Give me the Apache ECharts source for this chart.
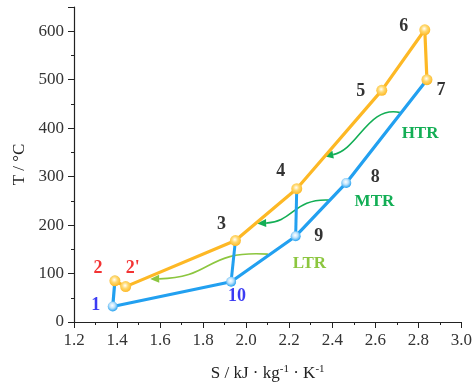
<!DOCTYPE html>
<html>
<head>
<meta charset="utf-8">
<script src="https://cdn.jsdelivr.net/npm/echarts@6/dist/echarts.min.js"></script>
<style>
  html, body { margin: 0; padding: 0; background: #fff; }
  #chart { width: 475px; height: 392px; }
</style>
</head>
<body>
<div id="chart"></div>
<script>
// state points of the cycle
const pointNames = ['1', '2', "2'", '3', '4', '5', '6', '7', '8', '9', '10'];
const entropy = [1.38, 1.39, 1.44, 1.95, 2.235, 2.63, 2.83, 2.84, 2.465, 2.23, 1.93];
const temperature = [32, 85, 73, 168, 275, 478, 603, 500, 287, 177, 83];

// paths through the points
const hotPath = ['2', "2'", '3', '4', '5', '6', '7'];
const coldPath = ['7', '8', '9', '10', '1', '2'];
const links = [['3', '10'], ['4', '9']];

// axes
const sRange = [1.2, 3.0];
const tRange = [0, 650];

// recuperator arrows (data coords)
const recuperators = ['HTR', 'MTR', 'LTR'];
const arrowFrom = [[2.717, 432], [2.389, 251.5], [2.101, 140]];
const arrowCtrl1 = [[2.566, 448], [2.22, 256], [1.805, 148.5]];
const arrowCtrl2 = [[2.52, 355], [2.22, 206], [1.851, 91]];
const arrowTo = [[2.363, 342], [2.051, 203.5], [1.554, 88.7]];
const tagAt = [[2.808, 388], [2.596, 248], [2.294, 121]];

const ORANGE = '#FDB825';
const BLUE = '#22A0F0';
const SERIF = 'Liberation Serif';

const labelStyle = {
  '1': { color: '#0A0AF0', offset: [-17, -1] },
  '2': { color: '#F00000', offset: [-17, -12] },
  "2'": { color: '#F00000', offset: [7, -18] },
  '3': { color: '#000', offset: [-14, -16] },
  '4': { color: '#000', offset: [-16, -17] },
  '5': { color: '#000', offset: [-21, 1] },
  '6': { color: '#000', offset: [-21, -3] },
  '7': { color: '#000', offset: [14, 11] },
  '8': { color: '#000', offset: [29, -6] },
  '9': { color: '#000', offset: [23, 0] },
  '10': { color: '#0A0AF0', offset: [6, 15] }
};
const tagColors = ['#13AE55', '#13AE55', '#8CC63F'];

function pt(name) {
  const i = pointNames.indexOf(name);
  return [entropy[i], temperature[i]];
}

function ballColor(edge, mid) {
  return {
    type: 'radial', x: 0.45, y: 0.4, r: 0.6,
    colorStops: [
      { offset: 0, color: '#ffffff' },
      { offset: 0.45, color: mid },
      { offset: 1, color: edge }
    ]
  };
}

const chart = echarts.init(document.getElementById('chart'));

const arrowData = recuperators.map((n, i) => [
  ...arrowFrom[i], ...arrowCtrl1[i], ...arrowCtrl2[i], ...arrowTo[i], ...tagAt[i]
]);

const option = {
  animation: false,
  grid: { left: 74, right: 11, top: 7, bottom: 70 },
  xAxis: {
    type: 'value',
    min: sRange[0], max: sRange[1], interval: 0.2,
    name: 'S / kJ · kg{sup|-1} · K{sup|-1}',
    nameLocation: 'middle',
    nameGap: 42,
    nameTextStyle: {
      fontFamily: SERIF, fontSize: 17, color: '#222',
      rich: { sup: { fontFamily: SERIF, fontSize: 11, color: '#222', verticalAlign: 'top', padding: [0, 0, 9, 0] } }
    },
    axisLine: { lineStyle: { color: '#222', width: 1.2 } },
    axisTick: { length: 6, lineStyle: { color: '#222' } },
    minorTick: { show: true, splitNumber: 2, length: 3, lineStyle: { color: '#222' } },
    axisLabel: {
      margin: 10, fontFamily: SERIF, fontSize: 17, color: '#333',
      formatter: v => v.toFixed(1)
    },
    splitLine: { show: false }
  },
  yAxis: {
    type: 'value',
    min: tRange[0], max: tRange[1], interval: 100,
    name: 'T / °C',
    nameLocation: 'middle',
    nameGap: 46,
    nameTextStyle: { fontFamily: SERIF, fontSize: 17, color: '#222' },
    axisLine: { show: true, lineStyle: { color: '#222', width: 1.2 } },
    axisTick: { show: true, length: 6, lineStyle: { color: '#222' } },
    minorTick: { show: true, splitNumber: 2, length: 3, lineStyle: { color: '#222' } },
    axisLabel: { margin: 10, fontFamily: SERIF, fontSize: 17, color: '#333', showMaxLabel: false },
    splitLine: { show: false }
  },
  series: [
    {
      type: 'custom',
      z: 1,
      data: arrowData,
      encode: { x: [0, 2, 4, 6], y: [1, 3, 5, 7] },
      renderItem: function (params, api) {
        const i = params.dataIndex;
        const p0 = api.coord([api.value(0), api.value(1)]);
        const c1 = api.coord([api.value(2), api.value(3)]);
        const c2 = api.coord([api.value(4), api.value(5)]);
        const p3 = api.coord([api.value(6), api.value(7)]);
        const tp = api.coord([api.value(8), api.value(9)]);
        const col = tagColors[i];
        let dx = p3[0] - c2[0], dy = p3[1] - c2[1];
        const len = Math.sqrt(dx * dx + dy * dy);
        dx /= len; dy /= len;
        const hl = 9, hw = 4;
        const bx = p3[0] - dx * hl, by = p3[1] - dy * hl;
        return {
          type: 'group',
          children: [
            {
              type: 'bezierCurve',
              shape: { x1: p0[0], y1: p0[1], cpx1: c1[0], cpy1: c1[1], cpx2: c2[0], cpy2: c2[1], x2: bx, y2: by },
              style: { stroke: col, lineWidth: 1.6, fill: null }
            },
            {
              type: 'polygon',
              shape: { points: [p3, [bx - dy * hw, by + dx * hw], [bx + dy * hw, by - dx * hw]] },
              style: { fill: col }
            },
            {
              type: 'text',
              style: {
                text: recuperators[i], x: tp[0], y: tp[1],
                fill: col, font: 'bold 17px "' + SERIF + '"',
                align: 'center', verticalAlign: 'middle'
              }
            }
          ]
        };
      }
    },
    ...links.map(l => ({
      type: 'line',
      z: 2,
      data: l.map(pt),
      symbol: 'none',
      lineStyle: { color: BLUE, width: 3 }
    })),
    {
      type: 'line',
      z: 3,
      data: coldPath.map(pt),
      symbol: 'circle',
      symbolSize: 10,
      lineStyle: { color: BLUE, width: 3.2 },
      itemStyle: { color: ballColor(BLUE, '#bfe3fb'), borderWidth: 0 }
    },
    {
      type: 'line',
      z: 4,
      data: hotPath.map(pt),
      symbol: 'circle',
      symbolSize: 11,
      lineStyle: { color: ORANGE, width: 3.2 },
      itemStyle: { color: ballColor(ORANGE, '#FFD970'), borderWidth: 0 }
    },
    {
      type: 'scatter',
      z: 5,
      symbolSize: 0,
      data: pointNames.map((n, i) => ({
        value: [entropy[i], temperature[i]],
        label: {
          show: true,
          formatter: n,
          position: 'inside',
          offset: labelStyle[n].offset,
          color: labelStyle[n].color,
          fontFamily: SERIF,
          fontWeight: 'bold',
          fontSize: 18
        }
      }))
    }
  ]
};

chart.setOption(option);
</script>
</body>
</html>
